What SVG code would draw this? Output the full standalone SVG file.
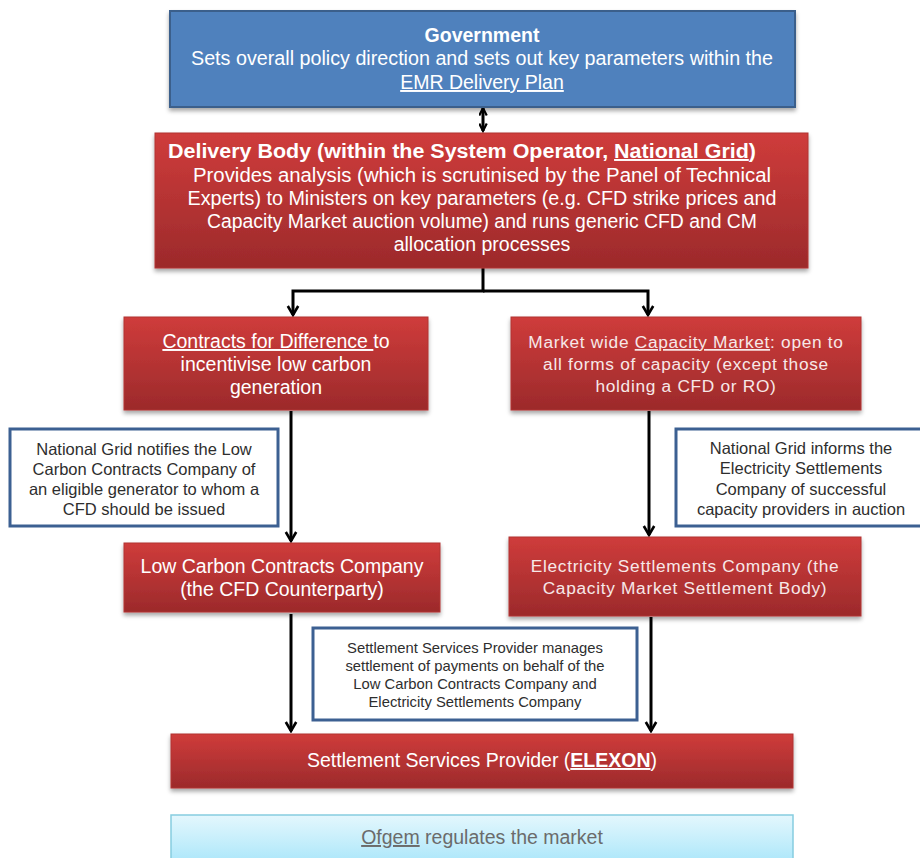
<svg xmlns="http://www.w3.org/2000/svg" width="920" height="858" viewBox="0 0 920 858">
<defs>
<linearGradient id="red" x1="0" y1="0" x2="0" y2="1">
<stop offset="0" stop-color="#cf3c3b"/>
<stop offset="1" stop-color="#9c2a2b"/>
</linearGradient>
<linearGradient id="cyan" x1="0" y1="0" x2="0" y2="1">
<stop offset="0" stop-color="#e4f7fd"/>
<stop offset="1" stop-color="#a9e6fa"/>
</linearGradient>
<filter id="sh" x="-5%" y="-10%" width="110%" height="130%">
<feDropShadow dx="0" dy="3" stdDeviation="2" flood-color="#000" flood-opacity="0.35"/>
</filter>
<marker id="ah" viewBox="0 0 12 12" refX="10" refY="6" markerWidth="12" markerHeight="14" markerUnits="userSpaceOnUse" orient="auto">
<path d="M1,0.8 L10,6 L1,11.2" fill="none" stroke="#000" stroke-width="2.6"/>
</marker>
<marker id="ahs" viewBox="0 0 12 10" refX="10" refY="5" markerWidth="10" markerHeight="9" markerUnits="userSpaceOnUse" orient="auto-start-reverse">
<path d="M1,0.5 L10,5 L1,9.5" fill="none" stroke="#000" stroke-width="2.6"/>
</marker>
</defs>
<style>
.t{font-family:"Liberation Sans",Arial,sans-serif;text-anchor:middle}
.w{fill:#ffffff}
.b{font-weight:bold}
.lt{fill:#f7e8e8;letter-spacing:0.7px}
.note{fill:#ffffff;stroke:#3c6092;stroke-width:3}
.nt{fill:#2e2e2e}
.redbox{fill:url(#red);stroke:#b13433;stroke-width:1;filter:url(#sh)}
.conn{fill:none;stroke:#000;stroke-width:3}
</style>
<rect width="920" height="858" fill="#ffffff"/>

<g id="connectors">
<line class="conn" x1="483" y1="108" x2="483" y2="131" marker-start="url(#ahs)" marker-end="url(#ahs)"/>
<path class="conn" d="M483,268 V291 H293 V315" marker-end="url(#ah)"/>
<path class="conn" d="M483,291 H648 V315" marker-end="url(#ah)"/>
<line class="conn" x1="291" y1="411" x2="291" y2="541" marker-end="url(#ah)"/>
<line class="conn" x1="649" y1="411" x2="649" y2="535" marker-end="url(#ah)"/>
<line class="conn" x1="291" y1="614" x2="291" y2="731" marker-end="url(#ah)"/>
<line class="conn" x1="651" y1="617" x2="651" y2="731" marker-end="url(#ah)"/>
</g>

<g id="government">
<rect x="170" y="11" width="625" height="96" fill="#4f81bd" stroke="#3a5f8b" stroke-width="2" filter="url(#sh)"/>
<text class="t w b" x="482" y="42" font-size="19.5">Government</text>
<text class="t w" x="482" y="65" font-size="19.5" textLength="582" lengthAdjust="spacingAndGlyphs">Sets overall policy direction and sets out key parameters within the</text>
<text class="t w" x="482" y="89" font-size="19.5" text-decoration="underline">EMR Delivery Plan</text>
</g>

<g id="delivery-body">
<rect class="redbox" x="155" y="133" width="653" height="135"/>
<text class="t w b" x="462" y="158" font-size="19.5" textLength="588" lengthAdjust="spacingAndGlyphs">Delivery Body (within the System Operator, <tspan text-decoration="underline">National Grid</tspan>)</text>
<text class="t w" x="482" y="182" font-size="19.5" textLength="578" lengthAdjust="spacingAndGlyphs">Provides analysis (which is scrutinised by the Panel of Technical</text>
<text class="t w" x="482" y="205" font-size="19.5" textLength="589" lengthAdjust="spacingAndGlyphs">Experts) to Ministers on key parameters (e.g. CFD strike prices and</text>
<text class="t w" x="482" y="228" font-size="19.5" textLength="550" lengthAdjust="spacingAndGlyphs">Capacity Market auction volume) and runs generic CFD and CM</text>
<text class="t w" x="482" y="251" font-size="19.5">allocation processes</text>
</g>

<g id="cfd">
<rect class="redbox" x="124" y="317" width="304" height="93"/>
<text class="t w" x="276" y="348" font-size="19.5"><tspan text-decoration="underline">Contracts for Difference </tspan>to</text>
<text class="t w" x="276" y="371" font-size="19.5">incentivise low carbon</text>
<text class="t w" x="276" y="394" font-size="19.5">generation</text>
</g>

<g id="capacity-market">
<rect class="redbox" x="511" y="317" width="350" height="93"/>
<text class="t lt" x="686" y="348" font-size="17.3">Market wide <tspan text-decoration="underline">Capacity Market</tspan>: open to</text>
<text class="t lt" x="686" y="370" font-size="17.3">all forms of capacity (except those</text>
<text class="t lt" x="686" y="392" font-size="17.3">holding a CFD or RO)</text>
</g>

<g id="note-lccc">
<rect class="note" x="10" y="429" width="268" height="97"/>
<text class="t nt" x="144" y="455" font-size="16.5">National Grid notifies the Low</text>
<text class="t nt" x="144" y="475" font-size="16.5">Carbon Contracts Company of</text>
<text class="t nt" x="144" y="495" font-size="16.5">an eligible generator to whom a</text>
<text class="t nt" x="144" y="515" font-size="16.5">CFD should be issued</text>
</g>

<g id="note-esc">
<rect class="note" x="676" y="429" width="250" height="97"/>
<text class="t nt" x="801" y="454" font-size="16.5">National Grid informs the</text>
<text class="t nt" x="801" y="474" font-size="16.5">Electricity Settlements</text>
<text class="t nt" x="801" y="495" font-size="16.5">Company of successful</text>
<text class="t nt" x="801" y="515" font-size="16.5">capacity providers in auction</text>
</g>

<g id="lccc">
<rect class="redbox" x="124" y="543" width="316" height="69"/>
<text class="t w" x="282" y="573" font-size="19.5">Low Carbon Contracts Company</text>
<text class="t w" x="282" y="596" font-size="19.5">(the CFD Counterparty)</text>
</g>

<g id="esc">
<rect class="redbox" x="509" y="537" width="352" height="79"/>
<text class="t lt" x="685" y="572" font-size="17.3">Electricity Settlements Company (the</text>
<text class="t lt" x="685" y="594" font-size="17.3">Capacity Market Settlement Body)</text>
</g>

<g id="note-ssp">
<rect class="note" x="313" y="628" width="324" height="92"/>
<text class="t nt" x="475" y="653" font-size="14.8">Settlement Services Provider manages</text>
<text class="t nt" x="475" y="671" font-size="14.8">settlement of payments on behalf of the</text>
<text class="t nt" x="475" y="689" font-size="14.8">Low Carbon Contracts Company and</text>
<text class="t nt" x="475" y="707" font-size="14.8">Electricity Settlements Company</text>
</g>

<g id="ssp">
<rect class="redbox" x="171" y="734" width="622" height="54"/>
<text class="t w" x="482" y="767" font-size="19.5">Settlement Services Provider (<tspan class="b" text-decoration="underline">ELEXON</tspan>)</text>
</g>

<g id="ofgem">
<rect x="171" y="815" width="622" height="50" fill="url(#cyan)" stroke="#86cde0" stroke-width="1.5"/>
<text class="t" x="482" y="844" font-size="19.5" fill="#6b6b6b"><tspan text-decoration="underline">Ofgem</tspan> regulates the market</text>
</g>
</svg>
